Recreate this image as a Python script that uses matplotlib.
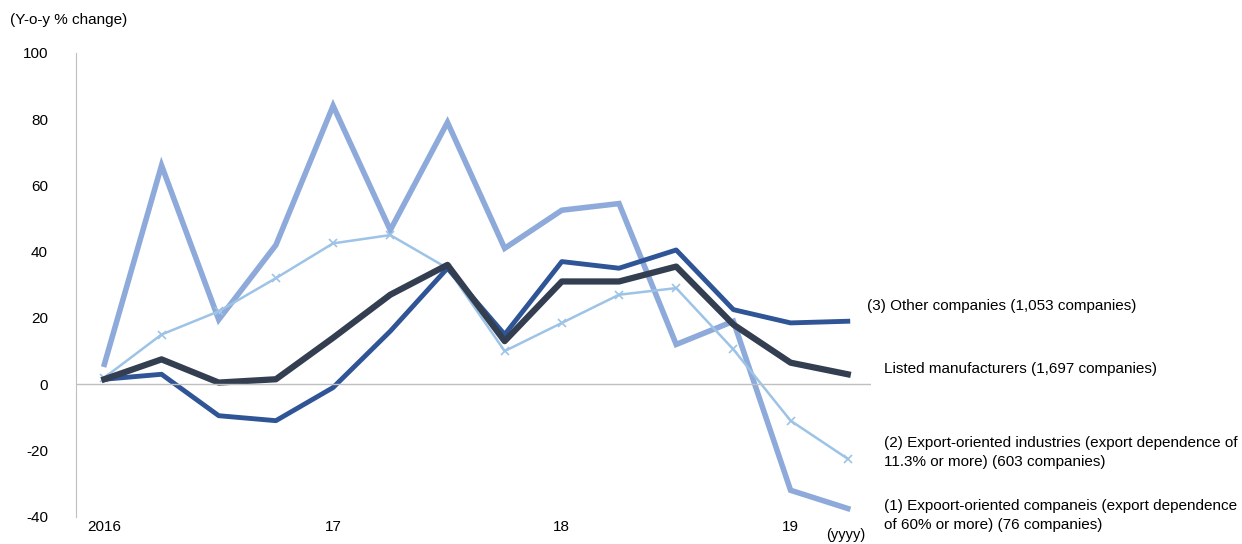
import numpy as np
import matplotlib
matplotlib.use("Agg")
import matplotlib.pyplot as plt

plt.rcParams["font.family"] = ["Liberation Sans", "DejaVu Sans"]
plt.rcParams["axes.unicode_minus"] = False

quarters = np.arange(14)
export60 = [6, 66, 19.5, 42, 84, 46.5, 79, 41, 52.5, 54.5, 12, 19, -32, -37.5]
export113 = [2, 15, 22, 32, 42.5, 45, 35, 10, 18.5, 27, 29, 10.5, -11, -22.5]
other = [1.5, 3, -9.5, -11, -1, 16, 35, 15, 37, 35, 40.5, 22.5, 18.5, 19]
listed = [1.5, 7.5, 0.5, 1.5, 14, 27, 36, 13, 31, 31, 35.5, 18, 6.5, 3]
tick_pos = [0, 4, 8, 12]
tick_labels = ["2016", "17", "18", "19"]

fig = plt.figure(figsize=(12.42, 5.44), dpi=100)
ax = fig.add_axes([0.061, 0.05, 0.64, 0.853])

ax.plot(quarters, export60, color="#8eaadb", lw=4, solid_joinstyle="miter")
ax.plot(quarters, export113, color="#9dc3e6", lw=1.8, marker="x", ms=6, mew=1.2)
ax.plot(quarters, other, color="#2f5597", lw=3.5)
ax.plot(quarters, listed, color="#333f50", lw=4.5)

ax.set_xlim(-0.5, 13.4)
ax.set_ylim(-40, 100)
ax.set_yticks(range(-40, 101, 20))
ax.set_xticks(tick_pos)
ax.set_xticklabels(tick_labels)
ax.axhline(0, color="#bfbfbf", lw=1)
for s in ["top", "right", "bottom"]:
    ax.spines[s].set_visible(False)
ax.spines["left"].set_color("#bfbfbf")
ax.tick_params(axis="y", length=0, labelsize=11, pad=20)
ax.tick_params(axis="x", length=0, labelsize=11, pad=2)

fig.text(0.008, 0.955, "(Y-o-y % change)", fontsize=11)
ax.text(13.3, -43.5, "(yyyy)", fontsize=10.5, ha="right", va="top")

lab = dict(fontsize=11, va="center", transform=fig.transFigure)
fig.text(0.698, 0.438, "(3) Other companies (1,053 companies)", **lab)
fig.text(0.712, 0.322, "Listed manufacturers (1,697 companies)", **lab)
fig.text(0.712, 0.168, "(2) Export-oriented industries (export dependence of\n11.3% or more) (603 companies)", linespacing=1.5, **lab)
fig.text(0.712, 0.052, "(1) Expoort-oriented companeis (export dependence\nof 60% or more) (76 companies)", linespacing=1.5, **lab)

fig.savefig("out.png")
